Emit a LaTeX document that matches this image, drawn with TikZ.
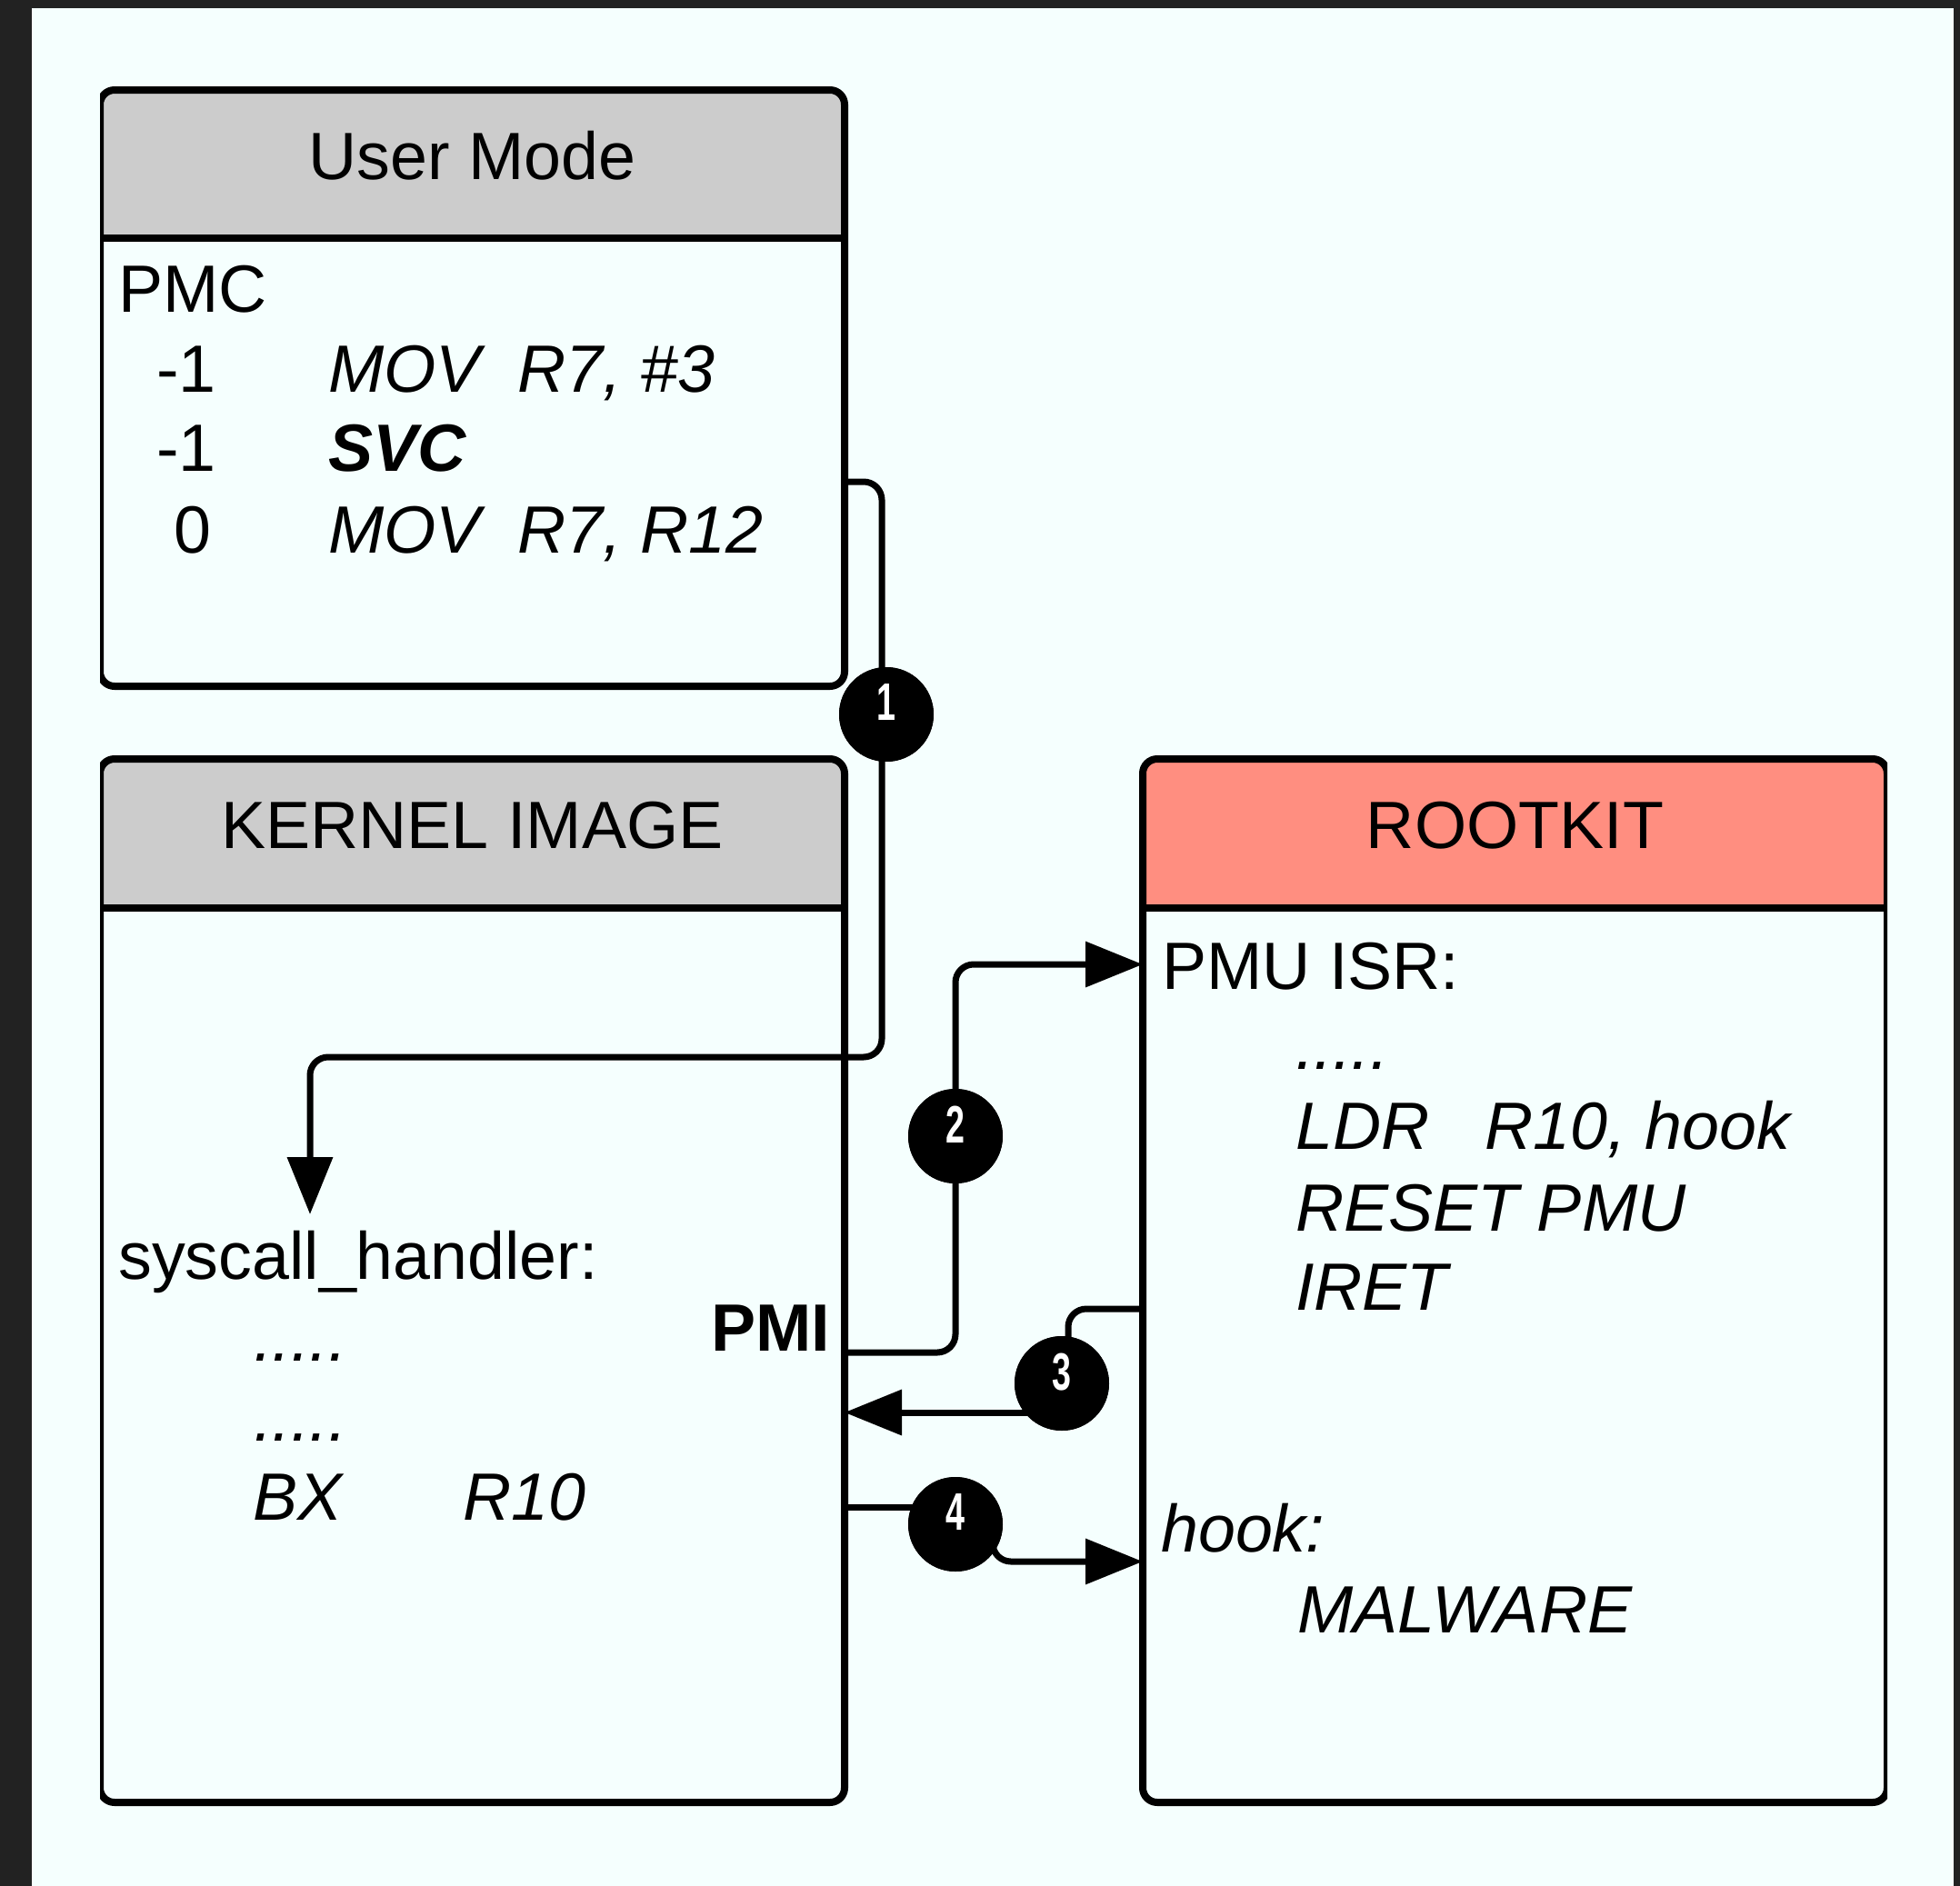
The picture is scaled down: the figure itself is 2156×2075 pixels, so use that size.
\documentclass[tikz,border=0pt]{standalone}
\usepackage{fontspec}
\setmainfont{Liberation Sans}
\usetikzlibrary{arrows.meta}
\definecolor{framedark}{HTML}{222222}
\definecolor{paper}{HTML}{F5FFFE}
\definecolor{headgray}{HTML}{CCCCCC}
\definecolor{salmon}{HTML}{FF8E80}
\newcommand\badgenum[1]{\raisebox{26pt}{\scalebox{0.65}[1]{#1}}}
\newcommand\bigtext{\fontsize{73.6}{88}\selectfont}
\tikzset{
  txt/.style={anchor=base west, inner sep=0pt, font=\bigtext},
  code/.style={txt, font=\bigtext\itshape},
  boldcode/.style={txt, font=\bigtext\bfseries\itshape},
  boldtxt/.style={txt, font=\bigtext\bfseries},
  title/.style={anchor=base, inner sep=0pt, font=\bigtext},
  frame/.style={draw=black, line width=8pt, rounded corners=16pt},
  divider/.style={draw=black, line width=8pt},
  conn/.style={draw=black, line width=7pt, rounded corners=20pt},
  tip/.style={-{Triangle[length=63pt,width=49pt]}},
  badge/.style={circle, fill=black, minimum size=104pt, inner sep=0pt,
    text=white, font=\fontsize{58}{58}\selectfont\bfseries},
  boxarea/.style={rectangle, inner sep=0pt, outer sep=0pt}
}
\begin{document}
\begin{tikzpicture}[x=1pt, y=-1pt]
\useasboundingbox (0,0) rectangle (2156,2075);
% page and dark surround
\fill[framedark] (0,0) rectangle (2156,2075);
\fill[paper] (35,9) rectangle (2149,2075);

% the three panels
\node[boxarea, minimum width=819pt, minimum height=656pt] (um) at (519.5,427) {};
\node[boxarea, minimum width=819pt, minimum height=1148pt] (ki) at (519.5,1409) {};
\node[boxarea, minimum width=819pt, minimum height=1148pt] (rk) at (1666.5,1409) {};

\begin{scope}
  \clip (110,0) rectangle (2076,2075);
  % User Mode
  \begin{scope}
    \clip[rounded corners=16pt] (um.north west) rectangle (um.south east);
    \fill[paper] (um.north west) rectangle (um.south east);
    \fill[headgray] (um.north west) rectangle (um.east |- 0,262);
  \end{scope}
  \draw[frame] (um.north west) rectangle (um.south east);
  \draw[divider] (um.west |- 0,262) -- (um.east |- 0,262);
  % Kernel image
  \begin{scope}
    \clip[rounded corners=16pt] (ki.north west) rectangle (ki.south east);
    \fill[paper] (ki.north west) rectangle (ki.south east);
    \fill[headgray] (ki.north west) rectangle (ki.east |- 0,999);
  \end{scope}
  \draw[frame] (ki.north west) rectangle (ki.south east);
  \draw[divider] (ki.west |- 0,999) -- (ki.east |- 0,999);
  % Rootkit
  \begin{scope}
    \clip[rounded corners=16pt] (rk.north west) rectangle (rk.south east);
    \fill[paper] (rk.north west) rectangle (rk.south east);
    \fill[salmon] (rk.north west) rectangle (rk.east |- 0,999);
  \end{scope}
  \draw[frame] (rk.north west) rectangle (rk.south east);
  \draw[divider] (rk.west |- 0,999) -- (rk.east |- 0,999);
\end{scope}

% numbered badges
\node[badge] (c1) at (975,786) {};
\node[badge] (c2) at (1051,1250) {};
\node[badge] (c3) at (1168,1522) {};
\node[badge] (c4) at (1051,1677) {};

% connectors
\coordinate (shIn) at (341,1336);
\draw[conn, tip] (um.east |- 0,530) -- (970,530) -- (970,1163) -- (341,1163) -- (shIn);
\draw[conn, tip] (ki.east |- 0,1488) -- (c2.center |- 0,1488) -- (c2.center |- 0,1061) -- (rk.west |- 0,1061);
\draw[conn] (rk.west |- 0,1440) -- (1175,1440) -- (1175,1500);
\draw[conn, tip] (c3.center |- 0,1554) -- (ki.east |- 0,1554);
\draw[conn] (ki.east |- 0,1658) -- (c4.center |- 0,1658);
\draw[conn, tip] (1092,1690) -- (1092,1718) -- (rk.west |- 0,1718);

% badges over the connector lines
\node[badge] at (c1) {\badgenum{1}};
\node[badge] at (c2) {\badgenum{2}};
\node[badge] at (c3) {\badgenum{3}};
\node[badge] at (c4) {\badgenum{4}};

% titles
\node[title] (umt) at (519.5,197) {User Mode};
\node[title] (kit) at (519.5,933) {KERNEL IMAGE};
\node[title] (rkt) at (1666.5,933) {ROOTKIT};

% user mode listing
\node[txt] (pmc) at (130,343) {PMC};
\node[txt] (n1) at (172,431) {-1};
\node[code] (i1) at (361,431) {MOV\ \ R7, \#3};
\node[txt] (n2) at (172,518) {-1};
\node[boldcode] (i2) at (361,518) {SVC};
\node[txt] (n3) at (191,608) {0};
\node[code] (i3) at (361,608) {MOV\ \ R7, R12};

% kernel listing
\node[txt] (sh) at (130,1407) {syscall\_handler:};
\node[code] (d1) at (279,1497) {.....};
\node[code] (d2) at (279,1585) {.....};
\node[code] (bx) at (278,1672) {BX\hspace{133pt}R10};
\node[boldtxt] (pmi) at (782,1486) {PMI};

% rootkit listing
\node[txt] (isr) at (1278,1088) {PMU ISR:};
\node[code] (d3) at (1425,1176) {.....};
\node[code] (ldr) at (1425,1264) {LDR\ \ \ R10, hook};
\node[code] (rst) at (1425,1354) {RESET PMU};
\node[code] (iret) at (1425,1441) {IRET};
\node[code] (hook) at (1277,1707) {hook:};
\node[code] (mal) at (1427,1796) {MALWARE};
\end{tikzpicture}
\end{document}
